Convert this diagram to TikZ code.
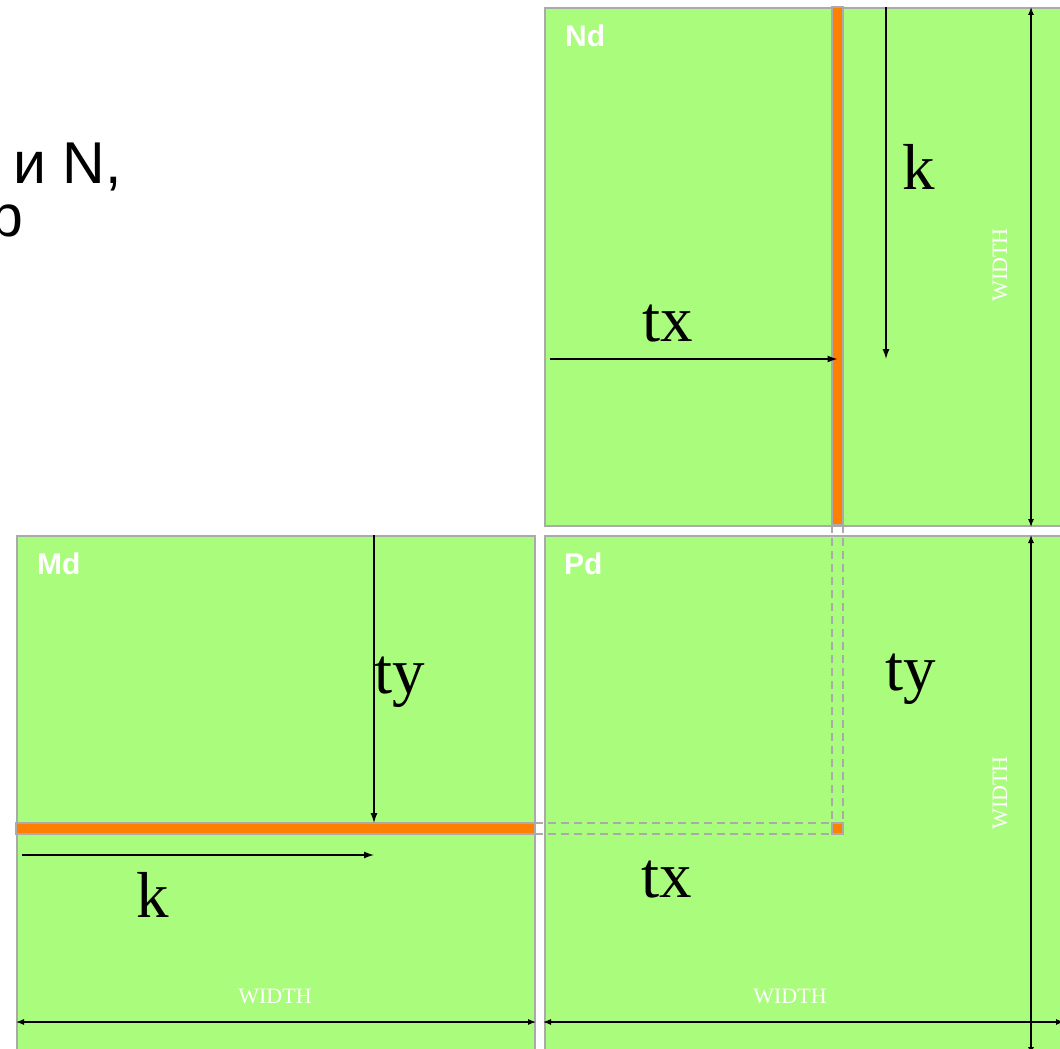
\documentclass[tikz,border=0pt]{standalone}
\usepackage{fontspec}
\setmainfont{Liberation Serif}
\newfontfamily\slidefont{Liberation Sans}
\usepackage{xcolor}
\usetikzlibrary{arrows.meta, positioning}

\definecolor{matgreen}{RGB}{170,252,124}
\definecolor{stripfill}{RGB}{255,128,0}
\definecolor{rim}{RGB}{170,170,170}

\begin{document}
\begin{tikzpicture}[x=1pt, y=-1pt,
  mat/.style={draw=rim, fill=matgreen, line width=2pt, inner sep=0pt,
              minimum width=518pt, minimum height=518pt},
  bar/.style={draw=rim, fill=stripfill, line width=1.5pt, inner sep=0pt, outer sep=0pt},
  tag/.style={text=white, font=\slidefont\bfseries\fontsize{30}{30}\selectfont,
              inner sep=0pt, anchor=base west},
  idx/.style={font=\fontsize{65}{65}\selectfont, inner sep=0pt, anchor=base},
  dimtext/.style={text=white, font=\fontsize{22}{22}\selectfont, inner sep=0pt},
  arr/.style={-{Latex[length=10pt,width=7pt]}, line width=1.3pt},
  dimarr/.style={{Latex[length=8pt,width=6pt]}-{Latex[length=8pt,width=6pt]}, line width=1.1pt},
  ghost/.style={draw=rim, line width=1.5pt, dash pattern=on 8pt off 5pt}]

  \useasboundingbox (0,0) rectangle (1060,1049);
  \clip (0,0) rectangle (1060,1049);

  % slide text, cut off at the left edge
  \node[font=\slidefont\fontsize{59}{59}\selectfont, anchor=base west, inner sep=0pt] (hdr) at (13,183) {и N,};
  \node[font=\slidefont\fontsize{59}{59}\selectfont, anchor=base west, inner sep=0pt] (hdrb) at (-10,236) {р};

  % the three matrices
  \node[mat, anchor=north west] (Nd) at (544,7) {};
  \node[mat, below=8pt of Nd] (Pd) {};
  \node[mat, left=8pt of Pd] (Md) {};

  \node[tag] (ndtag) at (565,47) {Nd};
  \node[tag] (mdtag) at (37,574) {Md};
  \node[tag] (pdtag) at (564,574) {Pd};

  % column of Nd, row of Md, element of Pd
  \node[bar, anchor=north west, minimum width=11pt, minimum height=518pt] (ncol) at (832,7) {};
  \node[bar, anchor=north west, minimum width=519pt, minimum height=11pt] (mrow) at (16,823) {};
  \node[bar, anchor=north west, minimum width=11pt, minimum height=11pt] (pcell) at (832,823) {};

  \draw[ghost] (ncol.south west) -- (pcell.north west);
  \draw[ghost] (ncol.south east) -- (pcell.north east);
  \draw[ghost] (mrow.north east) -- (pcell.north west);
  \draw[ghost] (mrow.south east) -- (pcell.south west);

  % Nd: tx and k
  \coordinate (ntx) at (550,359);
  \coordinate (nk) at (886,7);
  \draw[arr] (ntx) -- (ntx -| ncol.center);
  \draw[arr] (nk) -- (nk |- ntx);
  \node[idx] (ntxlab) at (668,341) {tx};
  \node[idx] (nklab) at (919,189) {k};

  % Md: ty and k
  \coordinate (mty) at (374,535);
  \coordinate (mk) at (22,855);
  \draw[arr] (mty) -- (mty |- mrow.north);
  \draw[arr] (mk) -- (mk -| mty);
  \node[idx] (mtylab) at (400,693) {ty};
  \node[idx] (mklab) at (153,917) {k};

  % Pd: ty and tx
  \node[idx] (ptylab) at (911,690) {ty};
  \node[idx] (ptxlab) at (667,897) {tx};

  % WIDTH dimensions
  \coordinate (nw) at (1031,7);
  \coordinate (pw) at (1031,535);
  \coordinate (mwb) at (16,1022);
  \coordinate (pwb) at (543,1022);
  \draw[dimarr] (nw) -- (nw |- Nd.south);
  \draw[dimarr] (pw) -- (pw |- Pd.south);
  \draw[dimarr] (mwb) -- (mwb -| Md.east);
  \draw[dimarr] (pwb) -- (pwb -| Pd.east);
  \node[dimtext, rotate=90] (nwlab) at (1000,265) {WIDTH};
  \node[dimtext, rotate=90] (pwlab) at (1000,793) {WIDTH};
  \node[dimtext, anchor=base] (mwlab) at (275,1003) {WIDTH};
  \node[dimtext, anchor=base] (pwblab) at (790,1003) {WIDTH};
\end{tikzpicture}
\end{document}
